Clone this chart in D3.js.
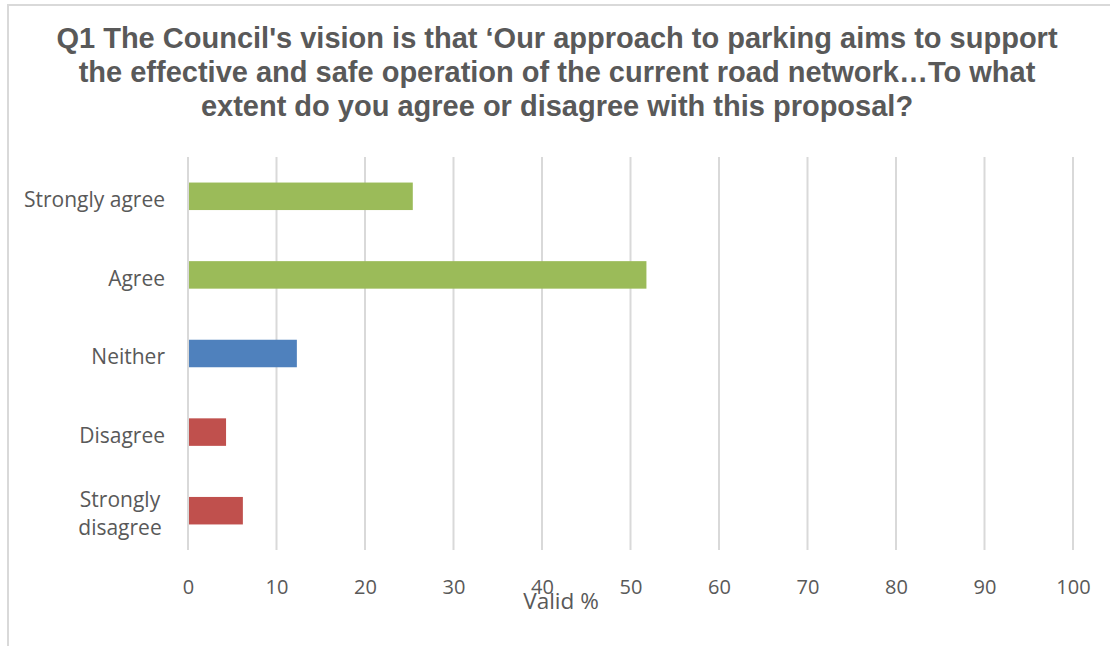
<!DOCTYPE html>
<html><head><meta charset="utf-8">
<script src="https://cdn.jsdelivr.net/npm/d3@7"></script>
<style>
html,body{margin:0;padding:0;background:#fff;}
svg{display:block;}
</style></head>
<body>
<svg id="chart" width="1110" height="646"></svg>
<script>
const categories = ["Strongly agree", "Agree", "Neither", "Disagree", "Strongly disagree"];
const values = [25.4, 51.8, 12.3, 4.3, 6.2];
const barColors = ["#9BBB59", "#9BBB59", "#4F81BD", "#C0504D", "#C0504D"];
const xTicks = [0, 10, 20, 30, 40, 50, 60, 70, 80, 90, 100];
const titleLines = [
  "Q1 The Council's vision is that \u2018Our approach to parking aims to support",
  "the effective and safe operation of the current road network\u2026To what",
  "extent do you agree or disagree with this proposal?"
];
const xAxisTitle = "Valid %";

const svg = d3.select("#chart");
const W = 1110, H = 646;
const plot = {left: 188, right: 1073, top: 157, bottom: 550};

// chart border
svg.append("path")
  .attr("d", `M8,${H} L8,5 L${W},5`)
  .attr("fill", "none").attr("stroke", "#D9D9D9").attr("stroke-width", 2);

// title
const title = svg.append("text")
  .attr("text-anchor", "middle")
  .attr("font-family", "'Liberation Sans', Arial, sans-serif")
  .attr("font-weight", "bold")
  .attr("font-size", 29)
  .attr("fill", "#595959");
titleLines.forEach((t, i) => {
  title.append("tspan").attr("x", 557).attr("y", 48 + i * 34).text(t);
});

const x = d3.scaleLinear().domain([0, 100]).range([plot.left, plot.right]);
const y = d3.scaleBand().domain(categories).range([plot.top, plot.bottom]).paddingInner(0.65).paddingOuter(0.325);

// gridlines
svg.append("g").selectAll("line").data(xTicks).join("line")
  .attr("x1", d => x(d)).attr("x2", d => x(d))
  .attr("y1", plot.top).attr("y2", plot.bottom)
  .attr("stroke", "#D9D9D9").attr("stroke-width", 2);

// bars
svg.append("g").selectAll("rect").data(categories).join("rect")
  .attr("x", x(0) + 1)
  .attr("y", d => y(d))
  .attr("width", (d, i) => x(values[i]) - x(0) - 1)
  .attr("height", y.bandwidth())
  .attr("fill", (d, i) => barColors[i]);

// x axis labels
const xAxis = d3.axisBottom(x).tickValues(xTicks).tickSize(0).tickPadding(0).tickFormat(d3.format("d"));
const gx = svg.append("g").attr("transform", `translate(0,${plot.bottom + 32})`).call(xAxis);
gx.select(".domain").remove();
gx.selectAll("text")
  .attr("font-family", "'Open Sans', sans-serif")
  .attr("font-size", 20)
  .attr("fill", "#595959")
  .attr("dy", "0.32em").attr("y", 6);

// y axis labels
const yAxis = d3.axisLeft(y).tickSize(0).tickPadding(23);
const gy = svg.append("g").attr("transform", `translate(${plot.left},0)`).call(yAxis);
gy.select(".domain").remove();
gy.selectAll("text")
  .attr("font-family", "'Open Sans', sans-serif")
  .attr("font-size", 21)
  .attr("fill", "#595959")
  .attr("dy", "0.52em")
  .each(function(d) {
    const t = d3.select(this);
    if (d === "Strongly disagree") {
      t.text(null).attr("text-anchor", "middle").attr("dy", null);
      t.append("tspan").attr("x", -68).attr("dy", "-0.2em").text("Strongly");
      t.append("tspan").attr("x", -68).attr("dy", "1.35em").text("disagree");
    }
  });

// x axis title
svg.append("text")
  .attr("x", 561).attr("y", 609)
  .attr("text-anchor", "middle")
  .attr("font-family", "'Open Sans', sans-serif")
  .attr("font-size", 22.5)
  .attr("fill", "#595959")
  .text(xAxisTitle);
</script>
</body></html>
